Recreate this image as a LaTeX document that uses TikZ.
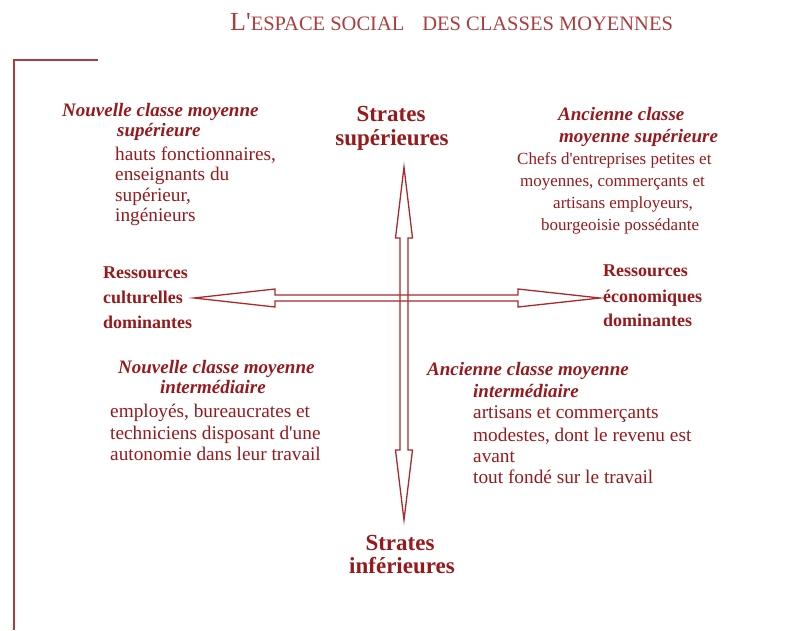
\documentclass[tikz,border=0pt]{standalone}
\usepackage{fontspec}
\setmainfont{Liberation Serif}[Ligatures=TeXOff]
\usetikzlibrary{calc}
\definecolor{bordeaux}{HTML}{98191C}
\definecolor{rouille}{HTML}{AF3C3C}
\definecolor{trait}{HTML}{A82A2A}
\tikzset{
  corps/.style={anchor=base west, inner sep=0pt, text=bordeaux, font=\fontsize{19.3}{20}\selectfont},
  petit/.style={corps, font=\fontsize{17}{18}\selectfont},
  classe/.style={corps, font=\fontsize{19}{20}\selectfont\bfseries\itshape},
  strate/.style={anchor=base, inner sep=0pt, text=bordeaux, font=\fontsize{23}{24}\selectfont\bfseries},
  ressource/.style={corps, font=\fontsize{18}{19}\selectfont\bfseries},
  fleche/.style={draw=trait, line width=1.3pt, line join=miter},
}
\begin{document}
\begin{tikzpicture}[x=1pt, y=-1pt]
	\useasboundingbox (0,0) rectangle (811,630);
	% titre et cadre
	\node[anchor=base west, inner sep=0pt, text=rouille] (titre) at (230,30)
		{\fontsize{26}{26}\selectfont L'\fontsize{20.5}{22}\selectfont ESPACE SOCIAL\hspace{18pt}DES CLASSES MOYENNES};
	\draw[draw=rouille, line width=1.6pt] (98,60) -- (14,60) -- (14,630);
	% axes
	\coordinate (haut) at (404,167);
	\coordinate (bas) at (404,520);
	\coordinate (gauche) at (194,298);
	\coordinate (droite) at (600,298);
	\draw[fleche] (haut) -- ++(8.5,71) -- ++(-4.5,0) |- ($(bas)+(4,-70)$)
		-- ++(4.5,0) -- (bas) -- ++(-8.5,-70) -- ++(4.5,0) |- ($(haut)+(-4,71)$)
		-- ++(-4.5,0) -- cycle;
	\draw[fleche] (gauche) -- ++(81,-9) -- ++(0,6) -| ($(droite)+(-82,-3)$)
		-- ++(0,-6) -- (droite) -- ++(-82,9) -- ++(0,-6) -| ($(gauche)+(81,3)$)
		-- ++(0,6) -- cycle;
	% strates
	\node[strate] (sup1) at (391,121) {Strates};
	\node[strate] (sup2) at (392,145) {supérieures};
	\node[strate] (inf1) at (400,550) {Strates};
	\node[strate] (inf2) at (402,573) {inférieures};
	% ressources
	\node[ressource] (cult1) at (103,278) {Ressources};
	\node[ressource] (cult2) at (103,303) {culturelles};
	\node[ressource] (cult3) at (103,328) {dominantes};
	\node[ressource] (eco1) at (603,276) {Ressources};
	\node[ressource] (eco2) at (603,302) {économiques};
	\node[ressource] (eco3) at (603,326) {dominantes};
	% nouvelle classe moyenne superieure
	\node[classe] (ncms1) at (62,116) {Nouvelle classe moyenne};
	\node[classe] (ncms2) at (117,136) {supérieure};
	\node[corps] (ncms3) at (115,160) {hauts fonctionnaires,};
	\node[corps] (ncms4) at (115,180) {enseignants du};
	\node[corps] (ncms5) at (115,201) {supérieur,};
	\node[corps] (ncms6) at (115,221) {ingénieurs};
	% ancienne classe moyenne superieure
	\node[classe] (acms1) at (558,120) {Ancienne classe};
	\node[classe] (acms2) at (559,142) {moyenne supérieure};
	\node[petit] (acms3) at (517,164) {Chefs d'entreprises petites et};
	\node[petit] (acms4) at (520,186) {moyennes, commerçants et};
	\node[petit] (acms5) at (553,208) {artisans employeurs,};
	\node[petit] (acms6) at (541,230) {bourgeoisie possédante};
	% nouvelle classe moyenne intermediaire
	\node[classe] (ncmi1) at (118,373) {Nouvelle classe moyenne};
	\node[classe] (ncmi2) at (160,393) {intermédiaire};
	\node[corps] (ncmi3) at (110,417) {employés, bureaucrates et};
	\node[corps] (ncmi4) at (110,439) {techniciens disposant d'une};
	\node[corps] (ncmi5) at (110,460) {autonomie dans leur travail};
	% ancienne classe moyenne intermediaire
	\node[classe] (acmi1) at (427,375) {Ancienne classe moyenne};
	\node[classe] (acmi2) at (473,397) {intermédiaire};
	\node[corps] (acmi3) at (473,418) {artisans et commerçants};
	\node[corps] (acmi4) at (473,441) {modestes, dont le revenu est};
	\node[corps] (acmi5) at (473,462) {avant};
	\node[corps] (acmi6) at (473,483) {tout fondé sur le travail};
\end{tikzpicture}
\end{document}
